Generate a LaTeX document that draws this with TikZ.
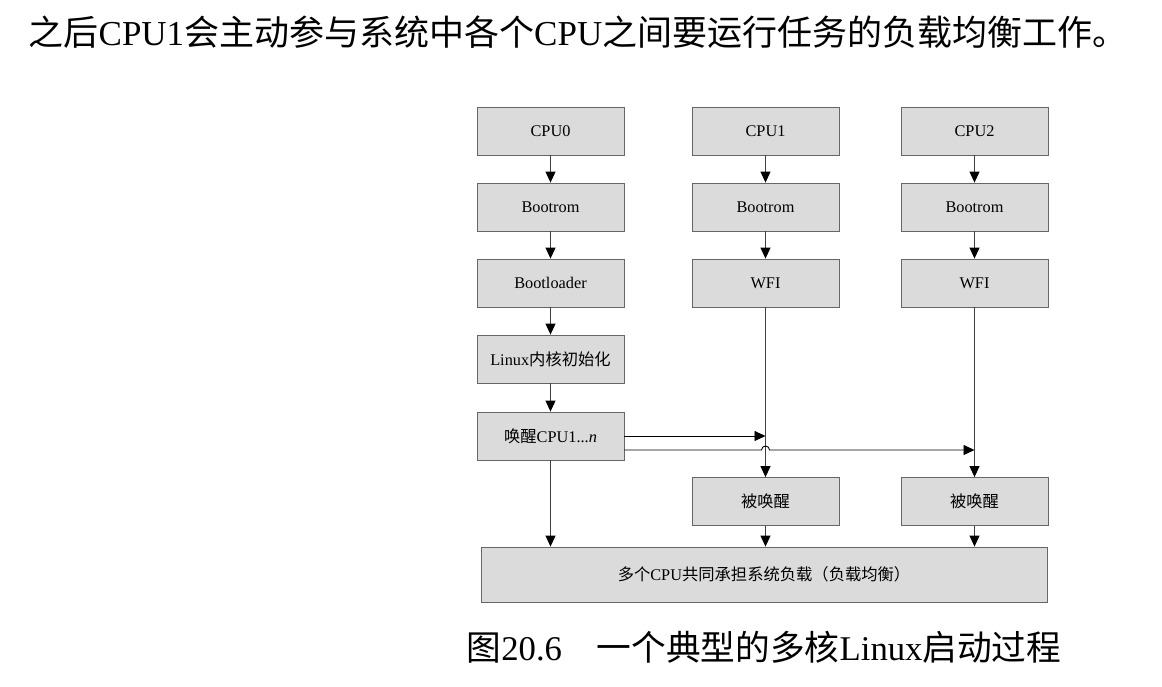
\documentclass[tikz,border=0pt]{standalone}
\usepackage{fontspec}
\setmainfont{Liberation Serif}
\newfontfamily\cjk{Noto Sans CJK SC}
\usetikzlibrary{arrows.meta}
\newcommand\zhs[1]{{\cjk #1}}
\begin{document}
\begin{tikzpicture}[x=1pt,y=-1pt,
 box/.style={draw=black!60, line width=0.8pt, fill=black!14, minimum width=147pt, minimum height=48pt, inner sep=0pt, font=\fontsize{16.3}{19}\selectfont},
 arr/.style={draw=black!75, line width=0.9pt, -{Triangle[length=11pt,width=10pt,fill=black,color=black]}},
 harr/.style={arr, draw=black}]
\useasboundingbox (0,0) rectangle (1162,686);
\node[font=\fontsize{35}{40}\selectfont] (top) at (578,32) {\zhs{之后}CPU1\zhs{会主动参与系统中各个}CPU\zhs{之间要运行任务的负载均衡工作。}};
% column 1
\node[box] (cpu0) at (550.5,131) {CPU0};
\node[box] (boot0) at (550.5,207) {Bootrom};
\node[box] (bl) at (550.5,283) {Bootloader};
\node[box] (lk) at (550.5,359) {Linux\zhs{内核初始化}};
\node[box] (wake) at (550.5,436) {\zhs{唤醒}CPU1...\textit{n}};
% column 2
\node[box] (cpu1) at (765.5,131) {CPU1};
\node[box] (boot1) at (765.5,207) {Bootrom};
\node[box] (wfi1) at (765.5,283) {WFI};
\node[box] (bw1) at (765.5,501.5) {\zhs{被唤醒}};
% column 3
\node[box] (cpu2) at (974.5,131) {CPU2};
\node[box] (boot2) at (974.5,207) {Bootrom};
\node[box] (wfi2) at (974.5,283) {WFI};
\node[box] (bw2) at (974.5,501.5) {\zhs{被唤醒}};
% bottom
\node[box, minimum width=566pt, minimum height=55pt] (all) at (764,574.5) {\zhs{多个}CPU\zhs{共同承担系统负载（负载均衡）}};
% arrows
\draw[arr] (cpu0) -- (boot0);
\draw[arr] (boot0) -- (bl);
\draw[arr] (bl) -- (lk);
\draw[arr] (lk) -- (wake);
\draw[arr] (cpu1) -- (boot1);
\draw[arr] (boot1) -- (wfi1);
\draw[arr] (cpu2) -- (boot2);
\draw[arr] (boot2) -- (wfi2);
\draw[arr] (wfi1) -- (bw1);
\draw[arr] (wfi2) -- (bw2);
\draw[harr] (wake) -- (wake -| wfi1);
\coordinate (y2) at ([yshift=-14pt]wake.east);
\coordinate (hop) at (y2 -| wfi1);
\draw[harr] (y2) -- ([xshift=-4pt]hop) arc[start angle=180,end angle=0,radius=4pt] -- (y2 -| wfi2);
\draw[arr] (wake) -- (wake |- all.north);
\draw[arr] (bw1) -- (bw1 |- all.north);
\draw[arr] (bw2) -- (bw2 |- all.north);
% caption
\node[font=\fontsize{34.7}{40}\selectfont] (cap) at (764,647) {\zhs{图}20.6\zhs{　一个典型的多核}Linux\zhs{启动过程}};
\end{tikzpicture}
\end{document}
